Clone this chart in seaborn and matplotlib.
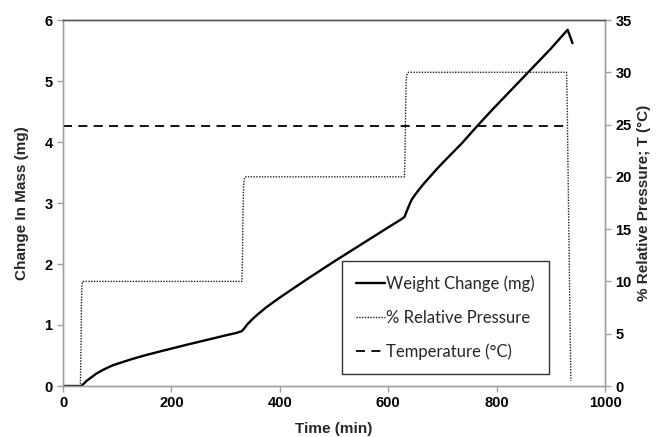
import matplotlib
matplotlib.use("Agg")
import matplotlib.pyplot as plt
import seaborn as sns
import pandas as pd

# Weight change (mg) vs time (min)
time_w = [0, 32, 35, 37, 40, 43, 49, 55, 61, 75, 92, 123, 150, 185, 230, 277, 300,
          320, 330, 335, 340, 350, 360, 375, 400, 450, 500, 550, 600, 620, 630, 634,
          638, 643, 650, 656, 665, 674, 690, 705, 736, 763, 791, 858, 900, 931, 940]
weight = [0, 0, 0.01, 0.03, 0.05, 0.08, 0.12, 0.16, 0.20, 0.27, 0.34, 0.43, 0.50,
          0.58, 0.68, 0.78, 0.83, 0.87, 0.90, 0.95, 1.01, 1.10, 1.18, 1.29, 1.45,
          1.75, 2.04, 2.32, 2.60, 2.71, 2.77, 2.86, 2.95, 3.05, 3.14, 3.21, 3.31,
          3.40, 3.56, 3.70, 3.98, 4.25, 4.52, 5.14, 5.53, 5.84, 5.62]

# % Relative pressure vs time (min)
time_rh = [0, 32, 33, 34, 35, 36, 330, 331, 332, 333, 334, 336, 630, 631, 632, 633, 634, 637,
           929, 930, 932, 934.5, 937]
rh = [0, 0, 3, 8, 9.6, 10, 10, 12, 16, 19, 19.7, 20, 20, 22, 26, 29, 29.7, 30,
      30, 28, 20, 10, 0.5]

# Temperature (°C)
time_t = [0, 930]
temp = [24.9, 24.9]

x_ticks = [0, 200, 400, 600, 800, 1000]
left_ticks = [0, 1, 2, 3, 4, 5, 6]
right_ticks = [0, 5, 10, 15, 20, 25, 30, 35]

sns.set_style("ticks")
plt.rcParams['font.family'] = ['Liberation Sans', 'DejaVu Sans']

fig = plt.figure(figsize=(6.59, 4.37), dpi=100)
ax = fig.add_axes([63/659, 51/437, 542/659, 366/437])
ax2 = ax.twinx()

df_w = pd.DataFrame({"t": time_w, "w": weight})
df_rh = pd.DataFrame({"t": time_rh, "rh": rh})
df_t = pd.DataFrame({"t": time_t, "T": temp})

sns.lineplot(data=df_w, x="t", y="w", ax=ax, color="black", linewidth=1.7,
             label="Weight Change (mg)", legend=False, sort=False)
sns.lineplot(data=df_rh, x="t", y="rh", ax=ax2, color="#222222", linewidth=1.0,
             linestyle=(0, (1, 1)), label="% Relative Pressure", legend=False, sort=False)
sns.lineplot(data=df_t, x="t", y="T", ax=ax2, color="black", linewidth=1.3,
             linestyle=(0, (5, 3.5)), label="Temperature (°C)", legend=False, sort=False)

ax.set_xlim(0, 1000)
ax.set_ylim(0, 6)
ax2.set_ylim(0, 35)
ax.set_xticks(x_ticks)
ax.set_yticks(left_ticks)
ax2.set_yticks(right_ticks)

for a in (ax, ax2):
    for s in a.spines.values():
        s.set_visible(True)
        s.set_color("#a0a0a0")
        s.set_linewidth(1.0)
    a.spines["top"].set_color("#555555")
    a.tick_params(colors="#a0a0a0", length=4, width=1, labelcolor="black",
                  labelsize=10.5)
for lab in ax.get_xticklabels() + ax.get_yticklabels() + ax2.get_yticklabels():
    lab.set_fontweight("bold")

ax.set_xlabel("Time (min)", fontsize=11, fontweight="bold", labelpad=8)
ax.set_ylabel("Change In Mass (mg)", fontsize=11, fontweight="bold", labelpad=11)
ax2.set_ylabel("% Relative Pressure; T (°C)", fontsize=11, fontweight="bold", labelpad=4)

h1, l1 = ax.get_legend_handles_labels()
h2, l2 = ax2.get_legend_handles_labels()
leg = ax2.legend(h1 + h2, l1 + l2, loc="lower left", bbox_to_anchor=(0.515, 0.033),
                 frameon=True, fancybox=False, edgecolor="#333333", framealpha=1,
                 handlelength=1.75, handletextpad=0.05, labelspacing=1.05, borderpad=0.85,
                 borderaxespad=0, prop={"family": "Lato", "size": 12})
leg.get_frame().set_linewidth(1.0)

fig.savefig("out.png", dpi=100)
